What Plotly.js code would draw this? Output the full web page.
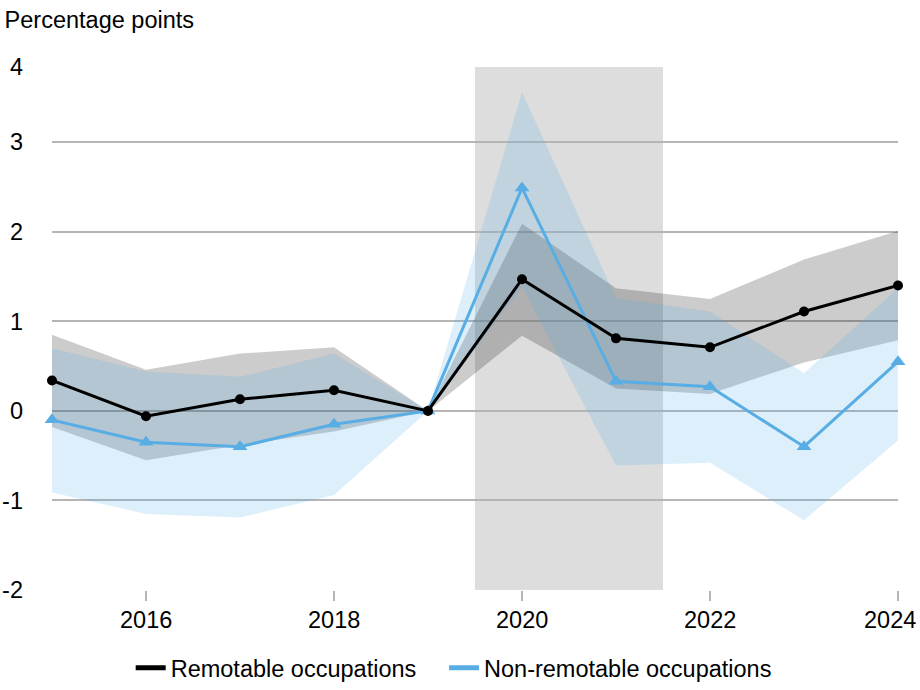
<!DOCTYPE html>
<html>
<head>
<meta charset="utf-8">
<script src="https://cdn.plot.ly/plotly-3.0.1.min.js"></script>
<style>html,body{margin:0;padding:0;background:#fff;}#chart{width:920px;height:690px;}</style>
</head>
<body>
<div id="chart"></div>
<script>
const years = [2015, 2016, 2017, 2018, 2019, 2020, 2021, 2022, 2023, 2024];

const remotable      = [0.34, -0.06, 0.13, 0.23, 0, 1.47, 0.81, 0.71, 1.11, 1.40];
const remotableHigh  = [0.85, 0.46, 0.64, 0.71, 0, 2.09, 1.37, 1.25, 1.69, 2.01];
const remotableLow   = [-0.18, -0.55, -0.38, -0.23, 0, 0.84, 0.25, 0.19, 0.54, 0.79];

const nonRemotable     = [-0.10, -0.35, -0.40, -0.15, 0, 2.49, 0.33, 0.27, -0.40, 0.55];
const nonRemotableHigh = [0.70, 0.44, 0.38, 0.64, 0, 3.56, 1.26, 1.11, 0.42, 1.37];
const nonRemotableLow  = [-0.91, -1.15, -1.19, -0.94, 0, 1.38, -0.61, -0.58, -1.22, -0.33];

const recession = [2019.5, 2021.5];

const yTickVals = [-2, -1, 0, 1, 2, 3, 3.84];
const yTickText = ['-2', '-1', '0', '1', '2', '3', '4'];
const xTickVals = [2016, 2018, 2020, 2022, 2024];
const xTickText = ['2016', '2018', '2020', '2022', '2024'];

const FONT = 'Liberation Sans, Arial, sans-serif';
const FS = 23.5;
const BLUE = '#58aee4';

function band(lo, hi, color) {
  return {
    x: years.concat(years.slice().reverse()),
    y: hi.concat(lo.slice().reverse()),
    type: 'scatter', mode: 'lines', fill: 'toself',
    fillcolor: color, line: {width: 0}, hoverinfo: 'skip', showlegend: false
  };
}

const traces = [
  band(remotableLow, remotableHigh, 'rgba(0,0,0,0.2)'),
  band(nonRemotableLow, nonRemotableHigh, 'rgba(86,174,230,0.2)'),
  {x: years, y: nonRemotable, type: 'scatter', mode: 'lines+markers',
   line: {color: BLUE, width: 3}, marker: {symbol: 'triangle-up', size: 13, color: BLUE},
   cliponaxis: false, showlegend: false},
  {x: years, y: remotable, type: 'scatter', mode: 'lines+markers',
   line: {color: '#000', width: 3}, marker: {symbol: 'circle', size: 10, color: '#000'},
   cliponaxis: false, showlegend: false},
  {x: [null], y: [null], type: 'scatter', mode: 'lines', name: 'Remotable occupations',
   line: {color: '#000', width: 5}, legend: 'legend'},
  {x: [null], y: [null], type: 'scatter', mode: 'lines', name: 'Non-remotable occupations',
   line: {color: BLUE, width: 5}, legend: 'legend2'}
];

// x tick labels drawn as annotations so the last one can stay inside the page
const xLabelAnnotations = xTickVals.map((v, i) => ({
  x: v, xref: 'x', y: 0, yref: 'paper', text: xTickText[i], showarrow: false,
  xanchor: 'center', yanchor: 'middle', yshift: -30,
  xshift: i === xTickVals.length - 1 ? -8 : 0,
  font: {family: FONT, size: FS, color: '#000'}
}));

const legendBase = {orientation: 'h', xanchor: 'left', y: -0.107, yanchor: 'top',
                    font: {family: FONT, size: FS}, itemwidth: 30, bgcolor: 'rgba(0,0,0,0)'};

const layout = {
  width: 920, height: 690,
  margin: {l: 52, r: 22, t: 67, b: 100, autoexpand: false},
  paper_bgcolor: '#fff', plot_bgcolor: '#fff',
  font: {family: FONT, size: FS, color: '#000'},
  title: {text: 'Percentage points', x: 0.005, xanchor: 'left', xref: 'container',
          y: 0.971, yanchor: 'middle', yref: 'container',
          font: {family: FONT, size: FS, color: '#000'}},
  xaxis: {range: [2015, 2024], tickvals: xTickVals, showticklabels: false, ticks: 'outside', ticklen: 10,
          tickwidth: 2, tickcolor: '#b5b5b5', showgrid: false, zeroline: false, showline: false},
  yaxis: {range: [-2, 3.84], tickvals: yTickVals, ticktext: yTickText,
          showgrid: true, gridcolor: '#b5b5b5', gridwidth: 2, zeroline: false,
          ticks: '', ticklabelstandoff: 28, tickfont: {family: FONT, size: FS}},
  shapes: [{type: 'rect', xref: 'x', yref: 'paper', x0: recession[0], x1: recession[1],
            y0: 0, y1: 1, fillcolor: '#dddddd', line: {width: 0}, layer: 'below'}],
  annotations: xLabelAnnotations,
  legend: Object.assign({}, legendBase, {x: 0.093}),
  legend2: Object.assign({}, legendBase, {x: 0.4634}),
  showlegend: true
};

Plotly.newPlot('chart', traces, layout, {displayModeBar: false, staticPlot: true});
</script>
</body>
</html>
